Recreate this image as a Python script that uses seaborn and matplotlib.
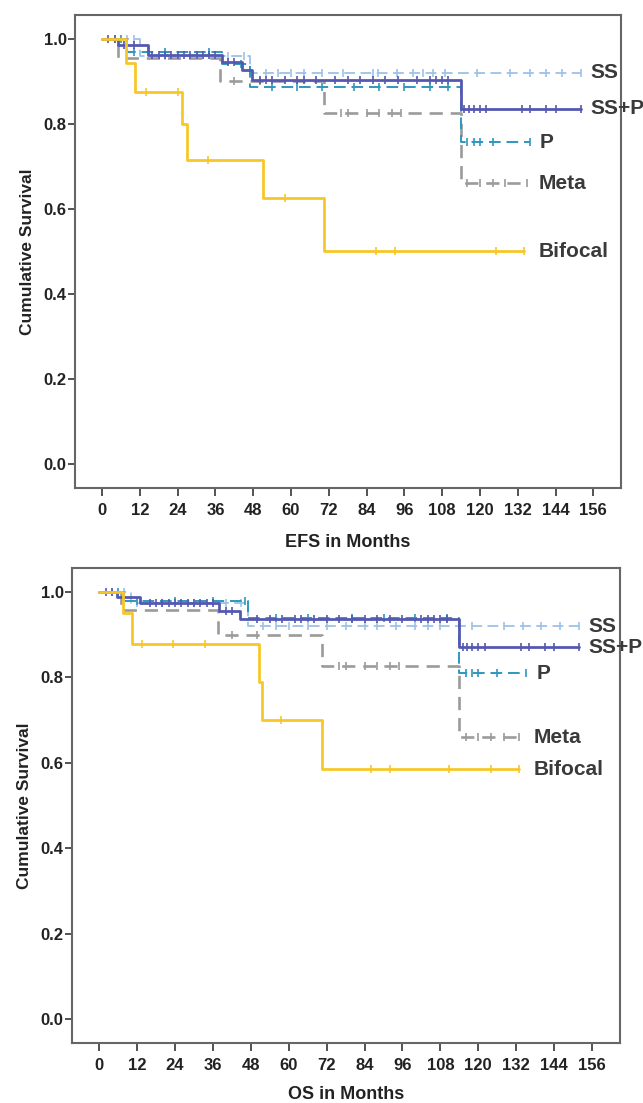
import matplotlib
matplotlib.use('Agg')
import matplotlib.pyplot as plt
import seaborn as sns
import numpy as np
import pandas as pd

##################################################################################
# data (Kaplan-Meier step values)
##################################################################################
GROUPS = ['SS', 'SS+P', 'P', 'Meta', 'Bifocal']

# EFS panel: event times (months), survival after each event, last follow-up, censors
efs_times = {
    'SS': [12, 47],
    'SS+P': [5, 14.5, 38, 44.5, 47.5, 114],
    'P': [8, 38, 47, 114],
    'Meta': [5, 37.5, 70.5, 114],
    'Bifocal': [7.5, 10.5, 25.5, 27, 51, 70.5],
}
efs_surv = {
    'SS': [0.96, 0.92],
    'SS+P': [0.985, 0.962, 0.946, 0.927, 0.904, 0.836],
    'P': [0.97, 0.94, 0.887, 0.757],
    'Meta': [0.955, 0.90, 0.826, 0.661],
    'Bifocal': [0.944, 0.875, 0.80, 0.714, 0.625, 0.50],
}
efs_end = {'SS': 152, 'SS+P': 152, 'P': 136, 'Meta': 135, 'Bifocal': 134}
efs_cens = {
    'SS': [4, 8, 10, 20, 30, 40, 45, 52, 56, 60, 64, 70, 76.5, 86, 87.6, 93.7,
           98.7, 102, 105, 109, 119, 129.5, 136, 141, 146, 152],
    'SS+P': [2, 4, 7, 10, 16, 18, 20, 22, 24, 26, 28, 30, 32, 34, 36, 40, 42,
             50, 52, 54, 58, 62, 64, 68, 74, 78, 82, 86, 90, 94, 100, 104, 106,
             108, 110, 115, 116.5, 118, 120, 122, 133.5, 136, 141, 144, 152],
    'P': [6, 10, 20, 34, 44, 54, 62, 70, 80, 88, 96, 104, 110, 116, 118, 120,
          124, 136],
    'Meta': [42, 50, 76, 78, 84, 88, 92, 95, 116, 120, 124, 128, 135],
    'Bifocal': [14, 24, 33.5, 58, 87, 93, 125, 134],
}

# OS panel
os_times = {
    'SS': [10, 47],
    'SS+P': [5.5, 13, 38, 44.5, 114],
    'P': [8, 47, 114],
    'Meta': [7, 37.5, 70.5, 114],
    'Bifocal': [7.5, 10.5, 50.5, 51.5, 70.5],
}
os_surv = {
    'SS': [0.975, 0.92],
    'SS+P': [0.988, 0.975, 0.955, 0.937, 0.87],
    'P': [0.98, 0.94, 0.81],
    'Meta': [0.958, 0.90, 0.826, 0.66],
    'Bifocal': [0.95, 0.877, 0.79, 0.70, 0.585],
}
os_end = {'SS': 152, 'SS+P': 152, 'P': 135, 'Meta': 133, 'Bifocal': 133}
os_cens = {
    'SS': [4, 8, 12, 20, 30, 40, 45, 52, 56, 60, 66, 72, 78, 84, 88, 94, 100,
           104, 108, 118, 128, 134, 140, 146, 152],
    'SS+P': [2, 4, 8, 16, 18, 20, 22, 24, 26, 28, 30, 32, 34, 36, 40, 42, 50,
             54, 58, 62, 64, 68, 72, 76, 80, 84, 88, 92, 96, 102, 104, 106, 108,
             110, 115, 116.5, 118, 120, 122, 133.5, 136, 141, 144, 152],
    'P': [6, 12, 24, 36, 46, 56, 66, 80, 90, 100, 110, 116, 118, 120, 126, 135],
    'Meta': [42, 50, 76, 78, 84, 88, 92, 95, 116, 120, 124, 128, 133],
    'Bifocal': [13.6, 23.5, 33.5, 57.4, 86, 92, 110.6, 124, 133],
}

X_TICKS = list(range(0, 157, 12))
Y_TICKS = [0.0, 0.2, 0.4, 0.6, 0.8, 1.0]

# label positions (months) for the group names at the right of each curve
efs_lab_x = {'SS': 155, 'SS+P': 155, 'P': 139, 'Meta': 138.5, 'Bifocal': 138.5}
os_lab_x = {'SS': 155, 'SS+P': 155, 'P': 138.5, 'Meta': 137.5, 'Bifocal': 137.5}

##################################################################################
# styles
##################################################################################
COLORS = {'SS': '#9cc3e8', 'SS+P': '#5558b0', 'P': '#2f97bd',
          'Meta': '#9b9b9b', 'Bifocal': '#f7c72a'}
LSTYLE = {'SS': (0, (6, 3)), 'SS+P': '-', 'P': (0, (6, 3)),
          'Meta': (0, (5, 3)), 'Bifocal': '-'}
LWIDTH = {'SS': 1.3, 'SS+P': 2.0, 'P': 1.4, 'Meta': 1.9, 'Bifocal': 2.0}
ZORD = {'SS': 3, 'SS+P': 5, 'P': 4, 'Meta': 2, 'Bifocal': 6}

sns.set_style('white')
FONT = ['Liberation Sans Narrow', 'Liberation Sans', 'DejaVu Sans']
plt.rcParams['font.family'] = FONT
plt.rcParams['font.weight'] = 'bold'


def step_frame(times, surv, end):
    x = [0] + list(times) + [end]
    y = [1.0] + list(surv) + [surv[-1]]
    return pd.DataFrame({'x': x, 'y': y})


def draw_panel(ax, times, surv, ends, cens, lab_x, xlabel, xlabpad):
    for g in GROUPS:
        df = step_frame(times[g], surv[g], ends[g])
        sns.lineplot(data=df, x='x', y='y', ax=ax, color=COLORS[g],
                     linestyle=LSTYLE[g], linewidth=LWIDTH[g],
                     drawstyle='steps-post', estimator=None, sort=False,
                     zorder=ZORD[g])
        # censor marks sit on the step value at each censor time
        ct = np.array(cens[g])
        idx = np.searchsorted(df['x'].values, ct, side='right') - 1
        cdf = pd.DataFrame({'x': ct, 'y': df['y'].values[idx]})
        sns.scatterplot(data=cdf, x='x', y='y', ax=ax, marker='|', s=40,
                        color=COLORS[g], linewidth=1.2, zorder=ZORD[g])
        ax.text(lab_x[g], surv[g][-1], g, fontsize=15, fontweight='bold',
                color='#3a3a3a', ha='left', va='center', family=FONT,
                zorder=10)

    ax.set_xlim(-8.6, 164.8)
    ax.set_ylim(-0.056, 1.056)
    ax.set_xticks(X_TICKS)
    ax.set_yticks(Y_TICKS)
    ax.set_yticklabels(['%.1f' % v for v in Y_TICKS])
    ax.tick_params(axis='both', direction='out', color='#444444', width=1.3,
                   labelsize=12, labelcolor='#222222', bottom=True, left=True)
    ax.tick_params(axis='x', length=6, pad=5)
    ax.tick_params(axis='y', length=5, pad=1)
    for s in ax.spines.values():
        s.set_color('#666666')
        s.set_linewidth(1.5)
        s.set_visible(True)
    ax.set_xlabel(xlabel, fontsize=13, fontweight='bold', color='#222222',
                  labelpad=xlabpad)
    ax.set_ylabel('Cumulative Survival', fontsize=12.5, fontweight='bold',
                  color='#222222', labelpad=6)


fig = plt.figure(figsize=(6.43, 11.03), dpi=100)
ax1 = fig.add_axes([0.1166, 0.5576, 0.8492, 0.4288])
ax2 = fig.add_axes([0.1120, 0.0544, 0.8520, 0.4306])

draw_panel(ax1, efs_times, efs_surv, efs_end, efs_cens, efs_lab_x,
           'EFS in Months', 11.5)
draw_panel(ax2, os_times, os_surv, os_end, os_cens, os_lab_x,
           'OS in Months', 9)

plt.savefig('out.png', dpi=100)
